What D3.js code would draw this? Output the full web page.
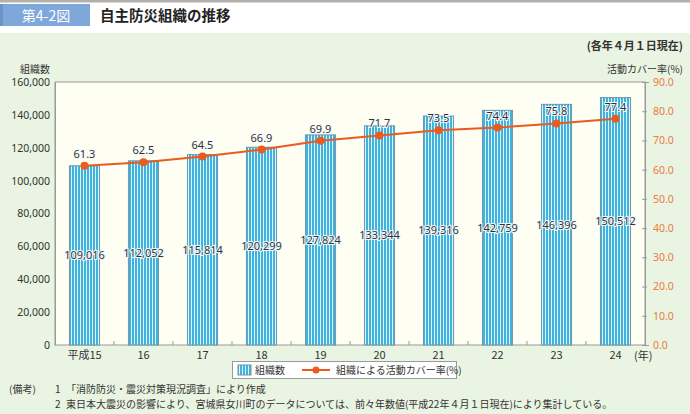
<!DOCTYPE html>
<html><head><meta charset="utf-8">
<script src="https://cdn.jsdelivr.net/npm/d3@7"></script>
<style>
body{margin:0;padding:0;background:#fff;}
svg{display:block;font-family:"Noto Sans CJK JP","Noto Sans",sans-serif;}
</style></head>
<body>
<script>
const categories = ["平成15","16","17","18","19","20","21","22","23","24"];
const orgCounts = [109016,112052,115814,120299,127824,133344,139316,142759,146396,150512];
const coverRates = [61.3,62.5,64.5,66.9,69.9,71.7,73.5,74.4,75.8,77.4];
const leftTicks = [0,20000,40000,60000,80000,100000,120000,140000,160000];
const rightTicks = [0,10,20,30,40,50,60,70,80,90];

const W=690,H=414;
const svg=d3.select("body").append("svg").attr("width",W).attr("height",H);

// backgrounds
svg.append("rect").attr("x",0).attr("y",0).attr("width",W).attr("height",H).attr("fill","#fff");
svg.append("rect").attr("x",0).attr("y",0).attr("width",W).attr("height",2.5).attr("fill","#b3afab");
svg.append("rect").attr("x",0).attr("y",33).attr("width",W).attr("height",H-33).attr("fill","#e9f4e2");
svg.append("rect").attr("x",0).attr("y",4).attr("width",90).attr("height",22).attr("fill","#7fa8da");
svg.append("rect").attr("x",0).attr("y",4).attr("width",3).attr("height",22).attr("fill","#6a93c6");
svg.append("text").attr("x",46).attr("y",20.5).attr("text-anchor","middle").attr("fill","#fff")
  .attr("font-size",14).text("第4-2図");
svg.append("text").attr("x",100).attr("y",21).attr("fill","#222").attr("font-size",14.5)
  .attr("font-weight","bold").text("自主防災組織の推移");

svg.append("text").attr("x",683).attr("y",50).attr("text-anchor","end").attr("fill","#333")
  .attr("font-size",11).attr("font-weight","bold").text("(各年４月１日現在)");
svg.append("text").attr("x",35).attr("y",73).attr("text-anchor","middle").attr("fill","#333")
  .attr("font-size",10).text("組織数");
svg.append("text").attr("x",683).attr("y",73).attr("text-anchor","end").attr("fill","#333")
  .attr("font-size",10).text("活動カバー率(%)");

const L=55,R=645,T=82,B=345;
const x=d3.scaleBand().domain(categories).range([L,R]).paddingInner(0.49).paddingOuter(0.245);
const yL=d3.scaleLinear().domain([0,160000]).range([B,T]);
const yR=d3.scaleLinear().domain([0,90]).range([B,T]);

svg.append("rect").attr("x",L).attr("y",T).attr("width",R-L).attr("height",B-T)
  .attr("fill","#fefef3").attr("stroke","#9a9a9a").attr("stroke-width",1);

// pattern
const defs=svg.append("defs");
const pat=defs.append("pattern").attr("id","stripes").attr("patternUnits","userSpaceOnUse")
  .attr("width",3).attr("height",10);
pat.append("rect").attr("width",3).attr("height",10).attr("fill","#dff3fb");
pat.append("rect").attr("x",0).attr("width",2).attr("height",10).attr("fill","#3fb2de");

// bars
svg.append("g").selectAll("rect").data(orgCounts).join("rect")
  .attr("x",(d,i)=>x(categories[i])).attr("y",d=>yL(d))
  .attr("width",x.bandwidth()).attr("height",d=>B-yL(d))
  .attr("fill","url(#stripes)").attr("stroke","#6f97a8").attr("stroke-width",1);

// axes
const axL=svg.append("g").attr("transform",`translate(${L},0)`)
  .call(d3.axisLeft(yL).tickValues(leftTicks).tickSize(0).tickPadding(5).tickFormat(d3.format(",")));
axL.select(".domain").attr("stroke","#9a9a9a");
axL.selectAll("text").attr("fill","#333").attr("font-size",10.5).attr("font-family","Noto Sans, sans-serif");

const axR=svg.append("g").attr("transform",`translate(${R},0)`)
  .call(d3.axisRight(yR).tickValues(rightTicks).tickSize(4).tickPadding(4).tickFormat(d3.format(".1f")));
axR.select(".domain").attr("stroke","#9a9a9a");
axR.selectAll(".tick line").attr("stroke","#9a9a9a").attr("x1",-3).attr("x2",2);
axR.selectAll("text").attr("fill","#ee7a3e").attr("font-size",10.5).attr("font-family","Noto Sans, sans-serif");

// x axis ticks at band boundaries
const bounds=categories.slice(1).map(c=>x(c)-x.step()*x.paddingInner()/2);
svg.append("g").selectAll("line").data(bounds).join("line")
  .attr("x1",d=>d).attr("x2",d=>d).attr("y1",B).attr("y2",B-4).attr("stroke","#9a9a9a");
const axB=svg.append("g").attr("transform",`translate(0,${B})`)
  .call(d3.axisBottom(x).tickSize(0).tickPadding(6));
axB.select(".domain").remove();
axB.selectAll("text").attr("fill","#333").attr("font-size",11).attr("font-family","Noto Sans CJK JP, sans-serif");
svg.append("text").attr("x",634).attr("y",360).attr("fill","#333").attr("font-size",11).text("(年)");

// bar value labels
svg.append("g").selectAll("text").data(orgCounts).join("text")
  .attr("x",(d,i)=>x(categories[i])+x.bandwidth()/2)
  .attr("y",d=>(yL(d)+B)/2+4)
  .attr("text-anchor","middle").attr("font-size",11).attr("fill","#333")
  .attr("font-family","Noto Sans, sans-serif")
  .attr("stroke","#eef9fc").attr("stroke-width",2.2).attr("paint-order","stroke")
  .text(d=>d3.format(",")(d));

// line
const cx=(i)=>x(categories[i])+x.bandwidth()/2;
const line=d3.line().x((d,i)=>cx(i)).y(d=>yR(d));
svg.append("path").datum(coverRates).attr("d",line).attr("fill","none")
  .attr("stroke","#ea5b1d").attr("stroke-width",2);
svg.append("g").selectAll("circle").data(coverRates).join("circle")
  .attr("cx",(d,i)=>cx(i)).attr("cy",d=>yR(d)).attr("r",4).attr("fill","#ea5b1d");
svg.append("g").selectAll("text").data(coverRates).join("text")
  .attr("x",(d,i)=>cx(i)).attr("y",d=>yR(d)-8)
  .attr("text-anchor","middle").attr("font-size",11).attr("fill","#333")
  .attr("font-family","Noto Sans, sans-serif")
  .attr("stroke","#f6fbfb").attr("stroke-width",2).attr("paint-order","stroke")
  .text(d=>d.toFixed(1));

// legend
const lg=svg.append("g");
lg.append("rect").attr("x",232.5).attr("y",361.5).attr("width",224).attr("height",17)
  .attr("fill","#fff").attr("stroke","#9a9a9a");
lg.append("rect").attr("x",238).attr("y",365).attr("width",13).attr("height",10)
  .attr("fill","url(#stripes)").attr("stroke","#6f97a8");
lg.append("text").attr("x",255).attr("y",374).attr("font-size",10).attr("fill","#333").text("組織数");
lg.append("line").attr("x1",302).attr("x2",330).attr("y1",370).attr("y2",370)
  .attr("stroke","#ea5b1d").attr("stroke-width",2);
lg.append("circle").attr("cx",316).attr("cy",370).attr("r",3.5).attr("fill","#ea5b1d");
lg.append("text").attr("x",336).attr("y",374).attr("font-size",10).attr("fill","#333").text("組織による活動カバー率(%)");

// notes
const notes=svg.append("g").attr("font-size",10).attr("fill","#333");
notes.append("text").attr("x",9).attr("y",393).text("(備考)");
notes.append("text").attr("x",55).attr("y",393).text("1");
notes.append("text").attr("x",66).attr("y",393).text("「消防防災・震災対策現況調査」により作成");
notes.append("text").attr("x",55).attr("y",408).text("2");
notes.append("text").attr("x",66).attr("y",408).text("東日本大震災の影響により、宮城県女川町のデータについては、前々年数値(平成22年４月１日現在)により集計している。");
</script>
</body></html>
